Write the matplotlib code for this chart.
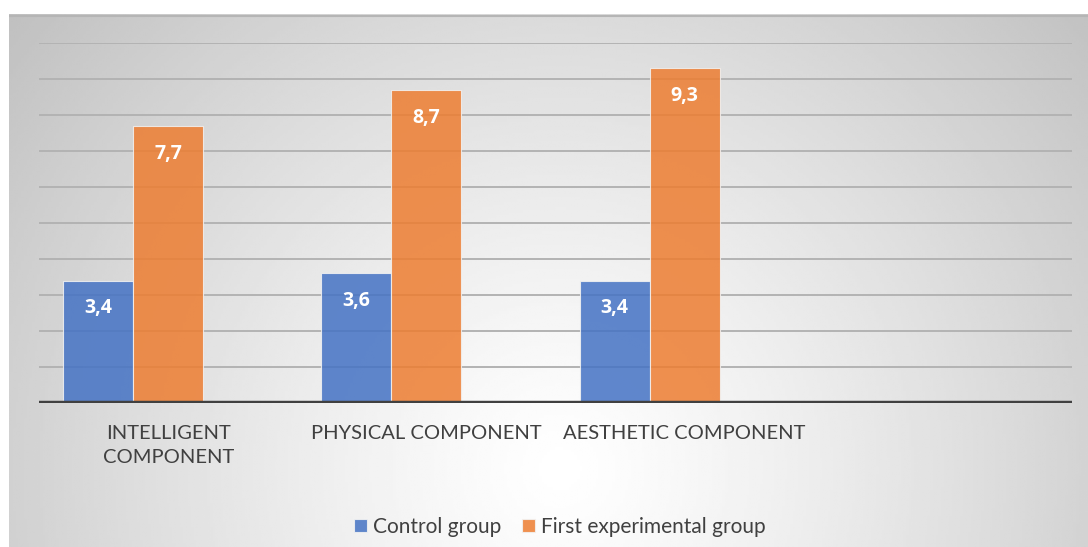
import numpy as np
import matplotlib
matplotlib.use("Agg")
import matplotlib.pyplot as plt

categories = ["INTELLIGENT\nCOMPONENT", "PHYSICAL COMPONENT", "AESTHETIC COMPONENT", ""]
control = [3.4, 3.6, 3.4, np.nan]
first_exp = [7.7, 8.7, 9.3, np.nan]
series_names = ["Control group", "First experimental group"]
y_max = 10

W, H = 1088, 547
FONT = "Lato"
fig = plt.figure(figsize=(W / 100, H / 100), dpi=100)
fig.patch.set_facecolor("white")

# background chart area with radial gradient
bg = fig.add_axes([9 / W, 0, (W - 9) / W, (H - 14) / H])
bg.set_axis_off()
xs = np.linspace(9, W, 400)
ys = np.linspace(14, H, 200)
X, Y = np.meshgrid(xs, ys)
d = np.sqrt((X - 560) ** 2 + (Y - 470) ** 2) / 700
val = np.clip(1 - 0.24 * d ** 1.2, 0, 1)
bg.imshow(val, cmap="gray", vmin=0, vmax=1, extent=[0, 1, 0, 1], aspect="auto",
          origin="upper", interpolation="bilinear")
bg.set_xlim(0, 1)
bg.set_ylim(0, 1)
bg.plot([0, 1], [0.997, 0.997], color="#b5b5b5", lw=1.5, transform=bg.transAxes)

ax = fig.add_axes([39 / W, (H - 403) / H, (1072 - 39) / W, (403 - 43) / H])
ax.patch.set_alpha(0)
ax.set_xlim(-0.5, len(categories) - 0.5)
ax.set_ylim(0, y_max)

x = np.arange(len(categories))
n_slots = 3
bw = 70 / 258
offsets = [(i - (n_slots - 1) / 2) * bw for i in range(n_slots)]
colors = ["#4472C4", "#ED7D31"]

for yv in range(1, y_max + 1):
    ax.axhline(yv, color="#b3b3b3", lw=1.4, zorder=1)

for vals, off, col, name in zip([control, first_exp], offsets, colors, series_names):
    ax.bar(x + off, vals, width=bw, color=col, alpha=0.85, edgecolor="#f2f2f2",
           linewidth=0.8, label=name, zorder=2)
    for xi, v in zip(x + off, vals):
        if not np.isnan(v):
            ax.annotate(f"{v:.1f}".replace(".", ","), (xi, v), xytext=(0, -20),
                        textcoords="offset points", ha="center", va="center",
                        color="white", fontsize=14, fontweight="bold",
                        family="Open Sans", zorder=3)

ax.axhline(0, color="#404040", lw=3.2, zorder=4)

for s in ax.spines.values():
    s.set_visible(False)
ax.set_yticks([])
ax.set_xticks(x)
ax.set_xticklabels(categories, fontsize=14.5, color="#404040", family=FONT,
                   linespacing=1.5)
ax.tick_params(axis="x", length=0, pad=16)

leg = fig.legend(loc="center", bbox_to_anchor=(560 / W, 1 - 527 / H), ncol=2, frameon=False,
                 prop={"family": FONT, "size": 15}, handlelength=0.6,
                 handleheight=0.6, handletextpad=0.3, columnspacing=1.0)
for t in leg.get_texts():
    t.set_color("#404040")

fig.savefig("out.png", dpi=100)
